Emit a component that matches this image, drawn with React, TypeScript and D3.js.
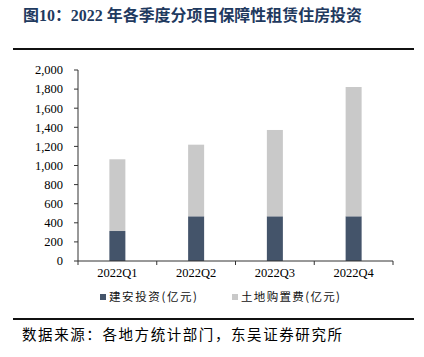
import React from "react";
import * as d3 from "d3";

const categories = ["2022Q1", "2022Q2", "2022Q3", "2022Q4"];
const constructionInvest = [314, 468, 468, 468];
const landPurchase = [751, 750, 904, 1354];
const yTicks = [0, 200, 400, 600, 800, 1000, 1200, 1400, 1600, 1800, 2000];
const seriesNames = ["建安投资(亿元)", "土地购置费(亿元)"];
const seriesColors = ["#44546a", "#c9c9c9"];

export default function App() {
  const W = 424, H = 357;
  const left = 78, right = 393, top = 70, bottom = 261;
  const x = d3.scaleBand<string>().domain(categories).range([left, right]).paddingInner(0).paddingOuter(0);
  const y = d3.scaleLinear().domain([0, 2000]).range([bottom, top]);
  const barW = 16;
  const rows = categories.map((c, i) => ({ c, a: constructionInvest[i], b: landPurchase[i] }));
  const stack = d3.stack<any>().keys(["a", "b"])(rows);
  const fmt = d3.format(",");
  const serif = "'Liberation Serif', 'Times New Roman', serif";
  const cjk = "'Noto Sans CJK SC', sans-serif";
  return (
    <svg width={W} height={H} style={{ position: "absolute", left: 0, top: 0, background: "#fff" }}>
      <text x={23} y={21} fontFamily={`'Liberation Serif', 'Noto Sans CJK SC', serif`} fontWeight="bold" fontSize={16} fill="#1f3a5f" textLength={339} lengthAdjust="spacingAndGlyphs">图10：2022 年各季度分项目保障性租赁住房投资</text>
      <line x1={13} x2={414} y1={49} y2={49} stroke="#111" strokeWidth={2} />
      {stack.map((s, si) => (
        <g key={si}>
          {s.map((d, i) => (
            <rect key={i} x={(x(categories[i]) as number) + x.bandwidth() / 2 - barW / 2} width={barW}
              y={y(d[1])} height={y(d[0]) - y(d[1])} fill={seriesColors[si]} />
          ))}
        </g>
      ))}
      <line x1={left} x2={left} y1={top} y2={bottom} stroke="#333" strokeWidth={1} />
      <line x1={left} x2={right} y1={bottom} y2={bottom} stroke="#333" strokeWidth={1} />
      {yTicks.map((t) => (
        <g key={t}>
          <line x1={left - 4} x2={left} y1={y(t)} y2={y(t)} stroke="#333" />
          <text x={63} y={y(t)} dy="0.35em" textAnchor="end" fontFamily={serif} fontSize={12.5} fill="#000">{fmt(t)}</text>
        </g>
      ))}
      {[...categories.map((c) => x(c) as number), right].map((v, i) => (
        <line key={i} x1={v} x2={v} y1={bottom} y2={bottom + 4} stroke="#333" />
      ))}
      {categories.map((c) => (
        <text key={c} x={(x(c) as number) + x.bandwidth() / 2} y={277} textAnchor="middle" fontFamily={serif} fontSize={12.5} fill="#000">{c}</text>
      ))}
      <rect x={100} y={294} width={6} height={6} fill={seriesColors[0]} />
      <text x={109} y={301} fontFamily={cjk} fontSize={11.5} fill="#111" textLength={88} lengthAdjust="spacing">{seriesNames[0]}</text>
      <rect x={232} y={294} width={6} height={6} fill={seriesColors[1]} />
      <text x={241} y={301} fontFamily={cjk} fontSize={11.5} fill="#111" textLength={99} lengthAdjust="spacing">{seriesNames[1]}</text>
      <line x1={13} x2={414} y1={319} y2={319} stroke="#111" strokeWidth={2} />
      <text x={22} y={340} fontFamily={cjk} fontSize={14.5} fill="#000" textLength={320} lengthAdjust="spacing">数据来源：各地方统计部门，东吴证券研究所</text>
    </svg>
  );
}
